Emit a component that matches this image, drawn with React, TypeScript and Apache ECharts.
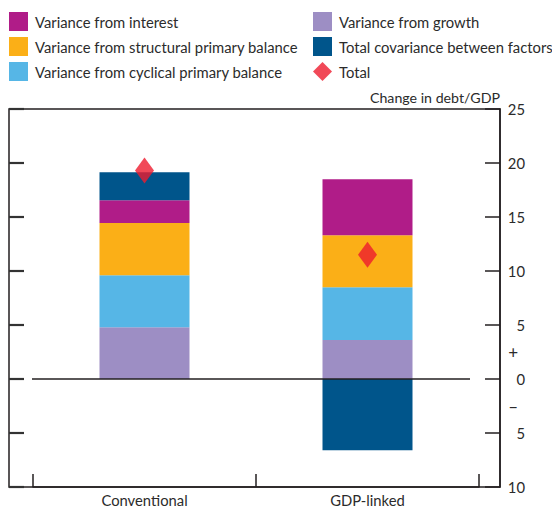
import React, { useEffect, useRef } from "react";
import * as echarts from "echarts";

const categories = ["Conventional", "GDP-linked"];
const growth = [4.8, 3.6];
const cyclical = [4.8, 4.9];
const structural = [4.85, 4.8];
const interest = [2.1, 5.2];
const covariance = [2.6, -6.6];
const total = [19.3, 11.5];
const yTicks = { min: -10, max: 25, step: 5 };
const yTickValues = [-10, -5, 0, 5, 10, 15, 20, 25];

const NAMES = {
  interest: "Variance from interest",
  structural: "Variance from structural primary balance",
  cyclical: "Variance from cyclical primary balance",
  growth: "Variance from growth",
  covariance: "Total covariance between factors",
  total: "Total",
};

const COLORS = {
  interest: "#B01C88",
  structural: "#FBAF17",
  cyclical: "#56B6E6",
  growth: "#9D8EC4",
  covariance: "#00558B",
  total: "#ED1C2E",
};

const FONT = "Lato";
const TEXT = "#2b2b2b";
const LINE = "#231F20";
const FS = 14.8;

const GRID = { left: 33, right: 73, top: 109, bottom: 20 };
const W = 552;
const H = 507;
const FRAME = { x: 9, y: 109, w: 491, h: 378 };
const TICK_LEN = 15;

export default function App() {
  const ref = useRef<HTMLDivElement>(null);
  useEffect(() => {
    const chart = echarts.init(ref.current!, null, { renderer: "svg" });
    const barSeries = (key: keyof typeof NAMES, data: number[]) => ({
      name: NAMES[key],
      type: "bar",
      stack: "s",
      data,
      barWidth: 90,
      yAxisIndex: 0,
      itemStyle: { color: COLORS[key] },
    });
    const legendCommon = {
      orient: "vertical",
      top: 12,
      itemWidth: 19,
      itemHeight: 19,
      itemGap: 6,
      padding: 0,
      textStyle: { fontFamily: FONT, fontSize: FS, color: TEXT, padding: [0, 0, 0, 2] },
      selectedMode: false,
    };
    chart.setOption({
      animation: false,
      textStyle: { fontFamily: FONT },
      grid: { ...GRID, containLabel: false },
      legend: [
        {
          ...legendCommon,
          left: 9,
          data: [
            { name: NAMES.interest, icon: "rect" },
            { name: NAMES.structural, icon: "rect" },
            { name: NAMES.cyclical, icon: "rect" },
          ],
        },
        {
          ...legendCommon,
          left: 313,
          data: [
            { name: NAMES.growth, icon: "rect" },
            { name: NAMES.covariance, icon: "rect" },
            { name: NAMES.total, icon: "diamond" },
          ],
        },
      ],
      xAxis: {
        type: "category",
        data: categories,
        axisLine: { show: true, onZero: false, lineStyle: { color: LINE, width: 1.5 } },
        axisTick: { show: true, inside: true, length: 13, lineStyle: { color: LINE, width: 1.5 } },
        axisLabel: { fontFamily: FONT, fontSize: FS, color: TEXT, margin: 5 },
      },
      yAxis: [
        {
          type: "value",
          min: yTicks.min,
          max: yTicks.max,
          interval: yTicks.step,
          position: "right",
          offset: 21,
          splitLine: { show: false },
          axisLine: { show: true, onZero: false, lineStyle: { color: LINE, width: 1.5 } },
          axisTick: { show: true, inside: true, length: TICK_LEN, lineStyle: { color: LINE, width: 1.5 } },
          name: "Change in debt/GDP",
          nameLocation: "end",
          nameGap: 5,
          nameTextStyle: { fontFamily: FONT, fontSize: 14.2, color: TEXT, align: "right", verticalAlign: "bottom" },
          axisLabel: {
            fontFamily: FONT,
            fontSize: FS,
            color: TEXT,
            align: "right",
            margin: 25,
            formatter: (v: number) => String(Math.abs(v)),
          },
        },
        {
          type: "value",
          min: yTicks.min,
          max: yTicks.max,
          interval: yTicks.step / 2,
          position: "right",
          offset: 21,
          splitLine: { show: false },
          axisLine: { show: false },
          axisTick: { show: false },
          axisLabel: {
            fontFamily: FONT,
            fontSize: 17,
            color: TEXT,
            align: "right",
            margin: 18,
            formatter: (v: number) => (v === 2.5 ? "+" : v === -2.5 ? "–" : ""),
          },
        },
      ],
      graphic: [
        {
          type: "rect",
          shape: { x: FRAME.x, y: FRAME.y, width: FRAME.w, height: FRAME.h },
          style: { fill: "none", stroke: LINE, lineWidth: 1.5 },
          silent: true,
          z: 0,
        },
      ],
      series: [
        {
          ...barSeries("growth", growth),
          markLine: {
            silent: true,
            symbol: "none",
            label: { show: false },
            lineStyle: { color: LINE, width: 1.5, type: "solid" },
            data: [[{ coord: [categories[0], 0], x: 32 }, { coord: [categories[1], 0], x: 470 }]],
            z: 10,
          },
        },
        barSeries("cyclical", cyclical),
        barSeries("structural", structural),
        barSeries("interest", interest),
        barSeries("covariance", covariance),
        {
          name: NAMES.total,
          type: "scatter",
          data: total,
          yAxisIndex: 0,
          symbol: "diamond",
          symbolSize: [19, 26],
          itemStyle: { color: COLORS.total },
          z: 5,
        },
        {
          name: "leftTicks",
          type: "custom",
          yAxisIndex: 0,
          silent: true,
          clip: false,
          data: yTickValues.map((v) => [categories[0], v]),
          encode: { x: 0, y: 1 },
          renderItem: (params: any, api: any) => {
            const y = api.coord([api.value(0), api.value(1)])[1];
            const x0 = FRAME.x;
            return {
              type: "line",
              shape: { x1: x0, y1: y, x2: x0 + TICK_LEN, y2: y },
              style: { stroke: "#333333", lineWidth: 2.2 },
              z2: 100,
            };
          },
          z: 20,
        },
      ],
    });
    return () => chart.dispose();
  }, []);
  return (
    <div
      ref={ref}
      style={{ position: "fixed", left: 0, top: 0, width: W, height: H, background: "#fff" }}
    />
  );
}
